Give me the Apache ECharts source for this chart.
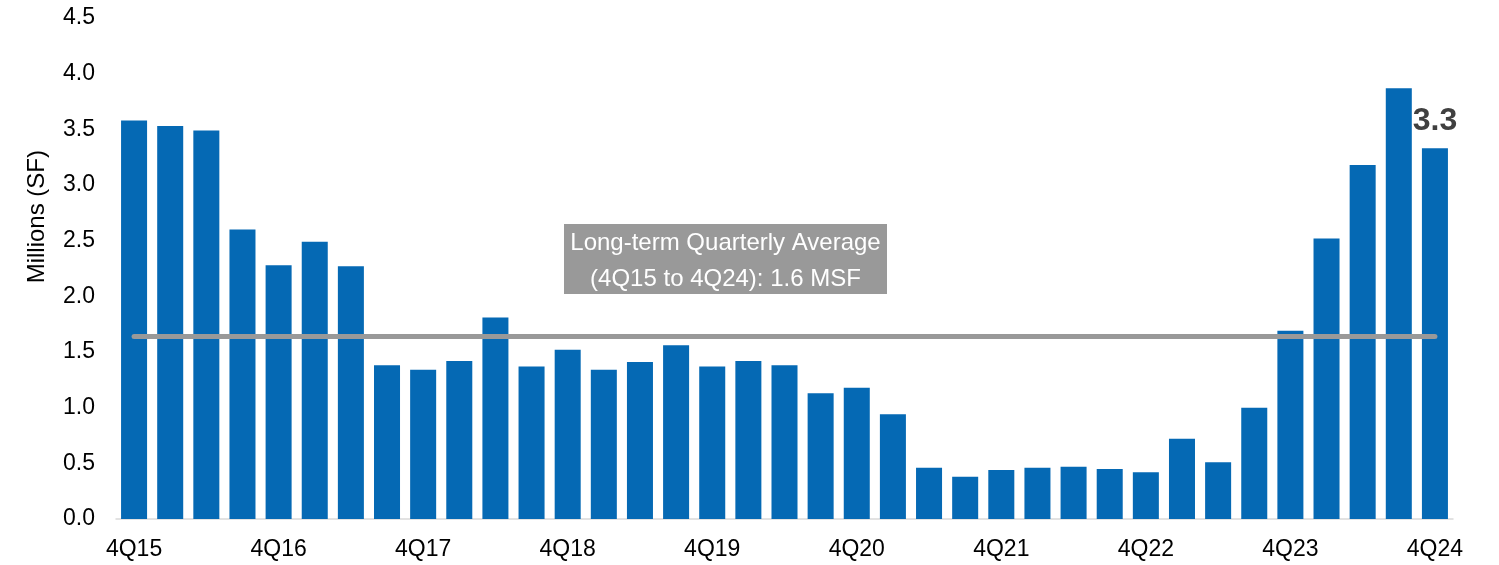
<!DOCTYPE html>
<html>
<head>
<meta charset="utf-8">
<script src="https://cdn.jsdelivr.net/npm/echarts@6/dist/echarts.min.js"></script>
<style>
  html, body { margin: 0; padding: 0; background: #fff; }
  #chart { width: 1499px; height: 565px; }
</style>
</head>
<body>
<div id="chart"></div>
<script>
// Quarterly values, millions of square feet
const quarters = [
  '4Q15','1Q16','2Q16','3Q16','4Q16','1Q17','2Q17','3Q17','4Q17',
  '1Q18','2Q18','3Q18','4Q18','1Q19','2Q19','3Q19','4Q19',
  '1Q20','2Q20','3Q20','4Q20','1Q21','2Q21','3Q21','4Q21',
  '1Q22','2Q22','3Q22','4Q22','1Q23','2Q23','3Q23','4Q23',
  '1Q24','2Q24','3Q24','4Q24'
];
const values = [
  3.58, 3.53, 3.49, 2.60, 2.28, 2.49, 2.27, 1.38, 1.34,
  1.42, 1.81, 1.37, 1.52, 1.34, 1.41, 1.56, 1.37,
  1.42, 1.38, 1.13, 1.18, 0.94, 0.46, 0.38, 0.44,
  0.46, 0.47, 0.45, 0.42, 0.72, 0.51, 1.00, 1.69,
  2.52, 3.18, 3.87, 3.33
];
const longTermAverage = 1.64;
const averageLabel = ['Long-term Quarterly Average', '(4Q15 to 4Q24): 1.6 MSF'];
const yTicks = { min: 0, max: 4.5, interval: 0.5 };

const FONT = '"Liberation Sans", Arial, sans-serif';
const chart = echarts.init(document.getElementById('chart'));
const lastIndex = values.length - 1;

chart.setOption({
  animation: false,
  textStyle: { fontFamily: FONT },
  grid: { left: 116, right: 46, top: 18, bottom: 46 },
  xAxis: {
    type: 'category',
    data: quarters,
    axisLine: { lineStyle: { color: '#d9d9d9', width: 1.5 } },
    axisTick: { show: false },
    axisLabel: {
      interval: 3,
      color: '#000',
      fontSize: 23,
      fontFamily: FONT,
      margin: 19
    }
  },
  yAxis: {
    type: 'value',
    min: yTicks.min,
    max: yTicks.max,
    interval: yTicks.interval,
    splitLine: { show: false },
    axisLine: { show: false },
    axisTick: { show: false },
    axisLabel: {
      color: '#000',
      fontSize: 23,
      fontFamily: FONT,
      margin: 21,
      formatter: v => v.toFixed(1)
    }
  },
  series: [{
    type: 'bar',
    data: values.map((v, i) => i === lastIndex ? {
      value: v,
      label: {
        show: true,
        position: 'top',
        distance: 11,
        formatter: p => p.value.toFixed(1),
        fontSize: 32,
        fontWeight: 'bold',
        color: '#404040',
        fontFamily: FONT
      }
    } : v),
    barCategoryGap: '28%',
    itemStyle: { color: '#0569b4' },
    markLine: {
      symbol: 'none',
      silent: true,
      label: { show: false },
      lineStyle: { color: '#999999', width: 5, type: 'solid', cap: 'round' },
      data: [[
        { coord: [quarters[0], longTermAverage] },
        { coord: [quarters[lastIndex], longTermAverage] }
      ]]
    }
  }],
  graphic: [
    {
      type: 'text',
      left: 25,
      top: 150,
      rotation: Math.PI / 2,
      style: {
        text: 'Millions (SF)',
        font: '24px ' + FONT,
        fill: '#000'
      }
    },
    {
      type: 'rect',
      shape: { x: 564, y: 224, width: 323, height: 70 },
      style: { fill: '#999999' },
      silent: true
    },
    {
      type: 'text',
      x: 725.5,
      y: 243,
      style: {
        text: averageLabel[0],
        font: '24px ' + FONT,
        fill: '#fff',
        align: 'center',
        verticalAlign: 'middle'
      }
    },
    {
      type: 'text',
      x: 725.5,
      y: 279,
      style: {
        text: averageLabel[1],
        font: '24px ' + FONT,
        fill: '#fff',
        align: 'center',
        verticalAlign: 'middle'
      }
    }
  ]
});
</script>
</body>
</html>
